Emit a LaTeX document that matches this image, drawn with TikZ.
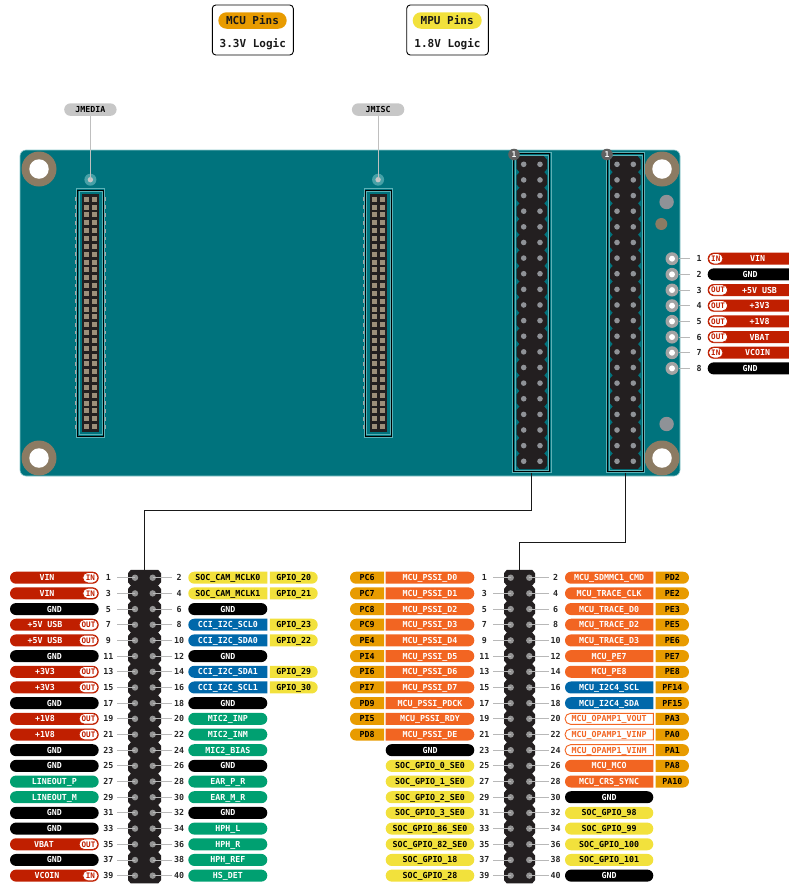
\documentclass[tikz,border=0pt]{standalone}
\usepackage{fontspec}
\usetikzlibrary{shapes.misc}
\newfontfamily\lblfont{DejaVu Sans Mono}
\catcode`\_=12
\definecolor{cRed}{HTML}{C01F00}
\definecolor{cGrn}{HTML}{00A071}
\definecolor{cYel}{HTML}{F2E13C}
\definecolor{cBlu}{HTML}{0068AA}
\definecolor{cOrg}{HTML}{F26522}
\definecolor{cAmb}{HTML}{E89B00}
\definecolor{cBoard}{HTML}{00737D}
\definecolor{cBody}{HTML}{231F20}
\definecolor{cHole}{HTML}{8C7B63}
\definecolor{cGrey}{HTML}{8F9297}
\definecolor{cFrame}{HTML}{5DB0B5}
\tikzset{
  pill/.style={rounded rectangle,minimum height=12pt,inner sep=0pt,text width=0pt,outer sep=0pt},
  lf/.style={rounded rectangle left arc=none},
  rf/.style={rounded rectangle right arc=none},
  nf/.style={},
  txt/.style={font=\lblfont\bfseries\fontsize{8.3}{10}\selectfont,inner sep=0pt,text height=6pt,text depth=0pt},
  kR/.style={fill=cRed}, kRt/.style={text=white},
  kK/.style={fill=black}, kKt/.style={text=white},
  kG/.style={fill=cGrn}, kGt/.style={text=white},
  kB/.style={fill=cBlu}, kBt/.style={text=white},
  kO/.style={fill=cOrg}, kOt/.style={text=white},
  kY/.style={fill=cYel}, kYt/.style={text=black},
  kA/.style={fill=cAmb}, kAt/.style={text=black},
  kW/.style={fill=white,draw=cOrg,line width=0.9pt,minimum height=11pt}, kWt/.style={text=cOrg},
  badge/.style={rounded rectangle,fill=white,draw=cRed,line width=0.8pt,minimum height=10.5pt,inner sep=0pt},
  badgetxt/.style={font=\lblfont\bfseries\fontsize{7.6}{9}\selectfont,text=cRed,inner sep=0pt,text height=5.6pt,text depth=0pt},
  numtxt/.style={txt,text=black!85},
  lead/.style={draw=black!28,line width=0.9pt},
  pinA/.style={circle,fill=black!42,minimum size=6.4pt,inner sep=0pt},
  pinB/.style={circle,fill=cGrey,minimum size=5.6pt,inner sep=0pt},
  wire/.style={draw=black!90,line width=1.2pt},
  legend/.style={rectangle,draw=black,fill=white,rounded corners=3.5pt,line width=0.9pt,inner sep=0pt},
  legtxt/.style={font=\lblfont\bfseries\fontsize{11}{13}\selectfont,inner sep=0pt,text=black!90},
  tag/.style={rounded rectangle,fill=black!22,minimum height=12.5pt,minimum width=52.4pt,inner sep=0pt},
  hole/.style={circle,fill=cHole,minimum size=35pt,inner sep=0pt},
  bore/.style={circle,fill=white,minimum size=19.5pt,inner sep=0pt},
  pad/.style={circle,fill=black!36,minimum size=13pt,inner sep=0pt},
  padin/.style={circle,fill=white,minimum size=6pt,inner sep=0pt},
  onebadge/.style={circle,fill=black!62,text=white,minimum size=11.6pt,inner sep=0pt,font=\lblfont\bfseries\fontsize{8}{9}\selectfont},
  dot/.style={circle,fill=cFrame!75!cBoard,minimum size=12pt,inner sep=0pt},
  dotin/.style={circle,fill=black!22,minimum size=5.4pt,inner sep=0pt},
  frameout/.style={rectangle,draw=cFrame,line width=0.8pt,inner sep=0pt},
  frameblk/.style={rectangle,draw=black,line width=0.8pt,inner sep=0pt},
  hbody/.style={fill=cBody},
}
% name, x1, x2, y, kind, flat side, text, text centre x (empty = middle)
\newcommand\lab[8]{%
  \pgfmathsetmacro\lcx{(#2+#3)/2}\pgfmathsetmacro\lwd{#3-#2}%
  \node[pill,k#5,#6,minimum width=\lwd pt] (#1) at (\lcx,#4) {};%
  \ifx\relax#8\relax\else\pgfmathsetmacro\lcx{#8}\fi
  \node[txt,k#5t] (#1t) at (\lcx,#4) {#7};}
\newcommand\rowy[1]{\pgfmathsetmacro\ry{577.7+15.68*floor((#1-1)/2)}}
% body L, body R, first row y, row step
\newcommand\hdrbody[4]{%
  \foreach \r in {0,...,19}{\pgfmathsetmacro\ya{#3+#4*\r-#4/2}\pgfmathsetmacro\yb{#3+#4*\r+#4/2}%
    \fill[hbody] ({#1+2.8},\ya) -- ({#2-2.8},\ya) -- (#2,\ya+3.3) -- (#2,\yb-3.3) -- ({#2-2.8},\yb) -- ({#1+2.8},\yb) -- (#1,\yb-3.3) -- (#1,\ya+3.3) -- cycle;}
  \pgfmathsetmacro\ya{#3-#4/2}\pgfmathsetmacro\yb{#3+#4*19.5}%
  \fill[hbody] ({#1+2.8},\ya) rectangle ({#2-2.8},\yb);}
% prefix, pin Lx, pin Rx, num Lx, num Rx, lead Lx, lead Rx
\newcommand\hdrrows[7]{%
  \foreach \n in {1,3,...,39}{\rowy{\n}\pgfmathtruncatemacro\m{\n+1}%
    \node[numtxt] (#1n\n) at (#4,\ry) {\n};
    \node[numtxt] (#1n\m) at (#5,\ry) {\m};
    \coordinate (#1e\n) at (#6,\ry);
    \coordinate (#1e\m) at (#7,\ry);
    \node[pinA] (#1p\n) at (#2,\ry) {};
    \node[pinA] (#1p\m) at (#3,\ry) {};
    \draw[lead] (#1e\n) -- (#1p\n.center);
    \draw[lead] (#1e\m) -- (#1p\m.center);}}
\newcommand\fineconn[2]{% name, dx
  \begin{scope}[xshift=#2pt]
    \foreach \r in {0,...,29}{\pgfmathsetmacro\yy{199.3+7.84*\r}%
      \fill[black!35] (75,\yy-1.9) rectangle (78,\yy+1.9);
      \fill[black!35] (102.4,\yy-1.9) rectangle (105.6,\yy+1.9);}
    \node[frameout,minimum width=28.4pt,minimum height=248.6pt] (#1) at (90.6,312.8) {};
    \node[frameblk,minimum width=26pt,minimum height=246pt] (#1b) at (90.7,313) {};
    \node[frameout,minimum width=23.6pt,minimum height=243pt] (#1c) at (90.8,313) {};
    \fill[cBody] (82.3,194) rectangle (99.3,431.5);
    \foreach \r in {0,...,29}{\pgfmathsetmacro\yy{199.3+7.84*\r}%
      \fill[cHole!85!white] (84.2,\yy-2.5) rectangle (89.2,\yy+2.5);
      \fill[cHole!85!white] (91.8,\yy-2.5) rectangle (96.8,\yy+2.5);}
  \end{scope}}
\newcommand\topconn[6]{% name, frame centre x, body L, body R, pin L, pin R
  \node[frameout,minimum width=38.6pt,minimum height=320pt] (#1) at (#2,312.4) {};
  \node[frameblk,minimum width=36pt,minimum height=317.6pt] (#1b) at (#2,312.4) {};
  \node[frameout,minimum width=33pt,minimum height=315pt] (#1c) at (#2,312.4) {};
  \hdrbody{#3}{#4}{164.3}{15.63}
  \foreach \r in {0,...,19}{\pgfmathsetmacro\yy{164.3+15.63*\r}%
    \node[pinB] (#1a\r) at (#5,\yy) {};
    \node[pinB] (#1d\r) at (#6,\yy) {};}}
\begin{document}
\begin{tikzpicture}[x=1pt,y=-1pt]
\useasboundingbox (0,0) rectangle (789,884);
% legends
\node[legend,minimum width=81pt,minimum height=50pt] (legA) at (252.8,30) {};
\node[rounded rectangle,fill=cAmb,minimum width=68.4pt,minimum height=16.5pt,inner sep=0pt] (legAp) at (252.5,20.5) {};
\node[legtxt] (legAt) at (252.5,20.5) {MCU Pins};
\node[legtxt] (legAu) at (252.8,44.5) {3.3V Logic};
\node[legend,minimum width=81.6pt,minimum height=50pt] (legB) at (447.5,30) {};
\node[rounded rectangle,fill=cYel,minimum width=69pt,minimum height=16.5pt,inner sep=0pt] (legBp) at (447.2,20.5) {};
\node[legtxt] (legBt) at (447.2,20.5) {MPU Pins};
\node[legtxt] (legBu) at (447.5,44.5) {1.8V Logic};
% board
\fill[cBoard,draw=cFrame!70!white,line width=0.6pt,rounded corners=6pt] (20,150) rectangle (680,476);
\foreach \i/\x/\y in {a/39/169,b/662/169,c/39/458,d/662/458}{
  \node[hole] (hole\i) at (\x,\y) {};
  \node[bore] (bore\i) at (\x,\y) {};}
\node[circle,fill=cGrey,minimum size=14.4pt,inner sep=0pt] (fidA) at (666.6,202) {};
\node[circle,fill=cHole,minimum size=12pt,inner sep=0pt] (fidB) at (661.3,224) {};
\node[circle,fill=cGrey,minimum size=14.4pt,inner sep=0pt] (fidC) at (666.6,424) {};
% fine connectors
\fineconn{jm}{0}
\fineconn{jx}{287.7}
\node[dot] (dotA) at (90.4,179.7) {};
\node[dotin] (dotAi) at (90.4,179.7) {};
\node[dot] (dotB) at (378.1,179.7) {};
\node[dotin] (dotBi) at (378.1,179.7) {};
\node[tag] (tagA) at (90.4,109.6) {};
\node[txt,text=black] at (90.4,109.6) {JMEDIA};
\node[tag] (tagB) at (378.1,109.6) {};
\node[txt,text=black] at (378.1,109.6) {JMISC};
\draw[draw=black!25,line width=1.1pt] (tagA.south) -- (dotAi.center);
\draw[draw=black!25,line width=1.1pt] (tagB.south) -- (dotBi.center);
% large headers on the board
\topconn{topA}{531.7}{516.7}{547}{523.7}{540}
\topconn{topB}{625.5}{610}{640.7}{617}{633.3}
\node[onebadge] (oneA) at (514,154.5) {1};
\node[onebadge] (oneB) at (607,154.5) {1};
% lower header bodies
\hdrbody{128}{161}{577.7}{15.68}
\hdrbody{504}{535}{577.7}{15.68}
\coordinate (botA) at (144.5,570);
\coordinate (botB) at (519.5,570);
\coordinate (jogA) at (0,510.5);
\coordinate (jogB) at (0,542.7);
\draw[wire] (topA.south) -- (topA.south |- jogA) -- (botA |- jogA) -- (botA);
\draw[wire] (topB.south) -- (topB.south |- jogB) -- (botB |- jogB) -- (botB);
\hdrrows{A}{135}{152.7}{108.3}{179}{117}{172}
\hdrrows{B}{510.7}{529.3}{484.3}{555.7}{493}{549}
% power connector on the right
\foreach \n/\kd/\txt/\tx in {1/R/VIN/757.7,2/K/GND/750,3/R/+5V USB/759.5,4/R/+3V3/759.5,5/R/+1V8/759.5,6/R/VBAT/759.5,7/R/VCOIN/757.7,8/K/GND/750}{
  \pgfmathsetmacro\yy{258.7+15.67*(\n-1)}
  \node[pad] (ja\n) at (672,\yy) {};
  \node[padin] (jb\n) at (672,\yy) {};
  \coordinate (je\n) at (690,\yy);
  \draw[lead] (ja\n.east) -- (je\n);
  \node[numtxt] (jn\n) at (699,\yy) {\n};
  \lab{jl\n}{707.7}{789}{\yy}{\kd}{rf}{\txt}{\tx}}
\foreach \n/\b/\bx in {1/IN/723,3/OUT/727.7,4/OUT/727.7,5/OUT/727.7,6/OUT/727.7,7/IN/723}{
  \pgfmathsetmacro\yy{258.7+15.67*(\n-1)}
  \pgfmathsetmacro\bw{\bx-708.5}\pgfmathsetmacro\bc{(\bx+708.5)/2}
  \node[badge,minimum width=\bw pt] (jbd\n) at (\bc,\yy) {};
  \node[badgetxt] at (\bc,\yy) {\b};}
% table A, left column
\foreach \n/\kd/\txt/\tx in {1/R/VIN/47,3/R/VIN/47,5/K/GND/54.3,7/R/+5V USB/45,9/R/+5V USB/45,11/K/GND/54.3,13/R/+3V3/45,15/R/+3V3/45,17/K/GND/54.3,19/R/+1V8/45,21/R/+1V8/45,23/K/GND/54.3,25/K/GND/54.3,27/G/LINEOUT_P/54.3,29/G/LINEOUT_M/54.3,31/K/GND/54.3,33/K/GND/54.3,35/R/VBAT/44,37/K/GND/54.3,39/R/VCOIN/47}{
  \rowy{\n}\lab{Af\n}{10}{98.7}{\ry}{\kd}{nf}{\txt}{\tx}}
\foreach \n/\b/\bx in {1/IN/82.7,3/IN/82.7,7/OUT/79,9/OUT/79,13/OUT/79,15/OUT/79,19/OUT/79,21/OUT/79,35/OUT/79,39/IN/82.7}{
  \rowy{\n}\pgfmathsetmacro\bw{98-\bx}\pgfmathsetmacro\bc{(98+\bx)/2}
  \node[badge,minimum width=\bw pt] (Ab\n) at (\bc,\ry) {};
  \node[badgetxt] at (\bc,\ry) {\b};}
% table A, right column
\foreach \n/\kd/\sh/\txt in {2/Y/rf/SOC_CAM_MCLK0,4/Y/rf/SOC_CAM_MCLK1,6/K/nf/GND,8/B/rf/CCI_I2C_SCL0,10/B/rf/CCI_I2C_SDA0,12/K/nf/GND,14/B/rf/CCI_I2C_SDA1,16/B/rf/CCI_I2C_SCL1,18/K/nf/GND,20/G/nf/MIC2_INP,22/G/nf/MIC2_INM,24/G/nf/MIC2_BIAS,26/K/nf/GND,28/G/nf/EAR_P_R,30/G/nf/EAR_M_R,32/K/nf/GND,34/G/nf/HPH_L,36/G/nf/HPH_R,38/G/nf/HPH_REF,40/G/nf/HS_DET}{
  \rowy{\n-1}\lab{Af\n}{188.3}{267.3}{\ry}{\kd}{\sh}{\txt}{}}
\foreach \n/\txt in {2/GPIO_20,4/GPIO_21,8/GPIO_23,10/GPIO_22,14/GPIO_29,16/GPIO_30}{
  \rowy{\n-1}\lab{Ag\n}{269.8}{317.7}{\ry}{Y}{lf}{\txt}{}}
% table B, left column
\foreach \n/\kd/\sh/\txt in {1/O/lf/MCU_PSSI_D0,3/O/lf/MCU_PSSI_D1,5/O/lf/MCU_PSSI_D2,7/O/lf/MCU_PSSI_D3,9/O/lf/MCU_PSSI_D4,11/O/lf/MCU_PSSI_D5,13/O/lf/MCU_PSSI_D6,15/O/lf/MCU_PSSI_D7,17/O/lf/MCU_PSSI_PDCK,19/O/lf/MCU_PSSI_RDY,21/O/lf/MCU_PSSI_DE,23/K/nf/GND,25/Y/nf/SOC_GPIO_0_SE0,27/Y/nf/SOC_GPIO_1_SE0,29/Y/nf/SOC_GPIO_2_SE0,31/Y/nf/SOC_GPIO_3_SE0,33/Y/nf/SOC_GPIO_86_SE0,35/Y/nf/SOC_GPIO_82_SE0,37/Y/nf/SOC_GPIO_18,39/Y/nf/SOC_GPIO_28}{
  \rowy{\n}\lab{Bf\n}{385.7}{474.3}{\ry}{\kd}{\sh}{\txt}{}}
\foreach \n/\txt in {1/PC6,3/PC7,5/PC8,7/PC9,9/PE4,11/PI4,13/PI6,15/PI7,17/PD9,19/PI5,21/PD8}{
  \rowy{\n}\lab{Bg\n}{350}{384}{\ry}{A}{rf}{\txt}{}}
% table B, right column
\foreach \n/\kd/\sh/\txt in {2/O/rf/MCU_SDMMC1_CMD,4/O/rf/MCU_TRACE_CLK,6/O/rf/MCU_TRACE_D0,8/O/rf/MCU_TRACE_D2,10/O/rf/MCU_TRACE_D3,12/O/rf/MCU_PE7,14/O/rf/MCU_PE8,16/B/rf/MCU_I2C4_SCL,18/B/rf/MCU_I2C4_SDA,20/W/rf/MCU_OPAMP1_VOUT,22/W/rf/MCU_OPAMP1_VINP,24/W/rf/MCU_OPAMP1_VINM,26/O/rf/MCU_MCO,28/O/rf/MCU_CRS_SYNC,30/K/nf/GND,32/Y/nf/SOC_GPIO_98,34/Y/nf/SOC_GPIO_99,36/Y/nf/SOC_GPIO_100,38/Y/nf/SOC_GPIO_101,40/K/nf/GND}{
  \rowy{\n-1}\lab{Bf\n}{565}{653.3}{\ry}{\kd}{\sh}{\txt}{}}
\foreach \n/\txt in {2/PD2,4/PE2,6/PE3,8/PE5,10/PE6,12/PE7,14/PE8,16/PF14,18/PF15,20/PA3,22/PA0,24/PA1,26/PA8,28/PA10}{
  \rowy{\n-1}\lab{Bg\n}{655.7}{689}{\ry}{A}{lf}{\txt}{}}
\end{tikzpicture}
\end{document}
